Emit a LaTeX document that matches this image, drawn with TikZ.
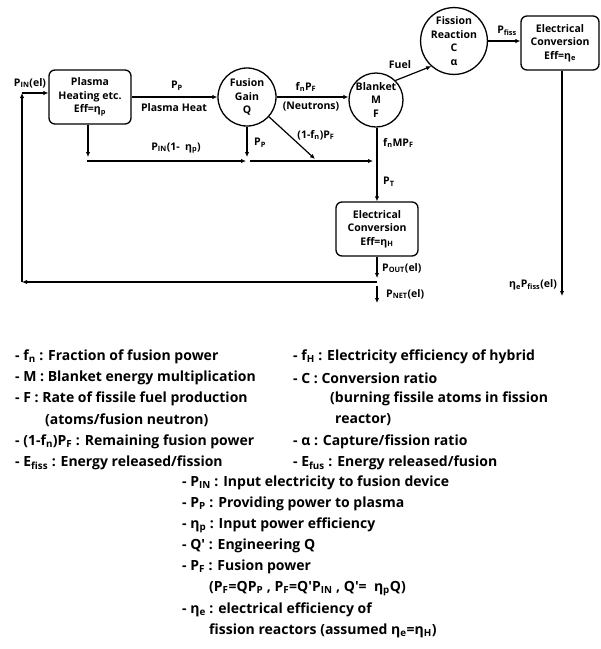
\documentclass[tikz,border=0pt]{standalone}
\usepackage{fontspec}
\setmainfont{Open Sans}
\usetikzlibrary{arrows.meta}
\newcommand\sbs[1]{\textsubscript{#1}}
\begin{document}
\begin{tikzpicture}[x=1pt,y=-1pt,
  font=\fontsize{10.5}{13.5}\selectfont\bfseries,
  ln/.style={line width=1.2pt},
  flow/.style={line width=1.2pt,-{Latex[length=5pt,width=4.5pt]}},
  box/.style={draw,line width=1.3pt,rounded corners=6pt,minimum width=82pt,minimum height=54pt,align=center,inner sep=1pt},
  circ/.style={draw,circle,line width=1.3pt,align=center,inner sep=0pt},
  lbl/.style={inner sep=0pt},
  leg/.style={anchor=west,inner sep=0pt,font=\fontsize{14}{16}\selectfont\bfseries}]
\fill[white] (0,0) rectangle (601,649);
\useasboundingbox (0,0) rectangle (601,649);

% main blocks
\node[box] (heat) at (90,97) {Plasma\\Heating etc.\\Eff=η\sbs{p}};
\node[circ,minimum size=58pt] (fus) at (247,97) {Fusion\\Gain\\Q};
\node[circ,minimum size=54pt] (blk) at (376,100) {Blanket\\M\\F};
\node[circ,minimum size=62pt] (fis) at (454,41) {Fission\\Reaction\\C\\α};
\node[box,minimum width=78pt] (ecr) at (560,43) {Electrical\\Conversion\\Eff=η\sbs{e}};
\node[box] (ecm) at (377,229) {Electrical\\Conversion\\Eff=η\sbs{H}};

% coordinates
\coordinate (c1) at (22,93);
\coordinate (c2) at (22,282);
\coordinate (j1) at (377,282);
\coordinate (hd) at (88,157);
\coordinate (h1) at (87,161);
\coordinate (h2) at (246,161);
\coordinate (fd) at (247,157);
\coordinate (h3) at (250,161);
\coordinate (h4) at (373,161);
\coordinate (dg) at (315,159);
\coordinate (po) at (377,278);
\coordinate (n1) at (377,286);
\coordinate (n2) at (377,303);
\coordinate (ee) at (562,296);

% connectors
\draw[flow] (c2) -- (c1);
\draw[flow] (c1) -- (c1 -| heat.west);
\draw[flow] (heat.east) -- (fus.west);
\draw[flow] (fus.east) -- (fus.east -| blk.west);
\draw[flow] (blk.45) -- (fis.228);
\draw[flow] (fis.east) -- (fis.east -| ecr.west);
\draw[flow] (ecr.south -| ee) -- (ee);
\draw[flow] (heat.south -| hd) -- (hd);
\draw[flow] (h1) -- (h2);
\draw[flow] (fus.south) -- (fd);
\draw[flow] (h3) -- (h4);
\draw[flow] (fus.-42) -- (dg);
\draw[flow] (blk.south -| ecm.north) -- (ecm.north);
\draw[flow] (ecm.south) -- (po);
\draw[flow] (j1) -- (c2);
\draw[flow] (n1) -- (n2);

% labels
\node[lbl] (lpin) at (30,83) {P\sbs{IN}(el)};
\node[lbl] (lpp) at (177,86) {P\sbs{P}};
\node[lbl] (lph) at (174,108) {Plasma Heat};
\node[lbl] (lpin2) at (176,148) {P\sbs{IN}(1-\ \ η\sbs{p})};
\node[lbl,anchor=west] (lpp2) at (254,143) {P\sbs{P}};
\node[lbl] (lfn) at (306,87) {f\sbs{n}P\sbs{F}};
\node[lbl] (lneu) at (311,107) {(Neutrons)};
\node[lbl] (l1fn) at (316,135) {(1-f\sbs{n})P\sbs{F}};
\node[lbl] (lfuel) at (400,65) {Fuel};
\node[lbl] (lpf) at (507,31) {P\sbs{fiss}};
\node[lbl,anchor=west] (lfm) at (383,143) {f\sbs{n}MP\sbs{F}};
\node[lbl,anchor=west] (lpt) at (383,182) {P\sbs{T}};
\node[lbl,anchor=west] (lpo) at (382,268) {P\sbs{OUT}(el)};
\node[lbl,anchor=west] (lpn) at (386,294) {P\sbs{NET}(el)};
\node[lbl] (lee) at (533,285) {η\sbs{e}P\sbs{fiss}(el)};

% legend left
\node[leg] (a1) at (15,357) {- f\sbs{n} : Fraction of fusion power};
\node[leg] (a2) at (15,378) {- M : Blanket energy multiplication};
\node[leg] (a3) at (15,399) {- F : Rate of fissile fuel production};
\node[leg] (a4) at (45,420) {(atoms/fusion neutron)};
\node[leg] (a5) at (15,442) {- (1-f\sbs{n})P\sbs{F} : Remaining fusion power};
\node[leg] (a6) at (15,463) {- E\sbs{fiss} : Energy released/fission};
% legend right
\node[leg] (b1) at (293,357) {- f\sbs{H} : Electricity efficiency of hybrid};
\node[leg] (b2) at (293,378) {- C : Conversion ratio};
\node[leg] (b3) at (330,399) {(burning fissile atoms in fission};
\node[leg] (b4) at (335,420) {reactor)};
\node[leg] (b5) at (293,442) {- α : Capture/fission ratio};
\node[leg] (b6) at (293,463) {- E\sbs{fus} : Energy released/fusion};
% legend bottom
\node[leg] (c1t) at (182,483) {- P\sbs{IN} : Input electricity to fusion device};
\node[leg] (c2t) at (182,504) {- P\sbs{P} : Providing power to plasma};
\node[leg] (c3t) at (182,525) {- η\sbs{p} : Input power efficiency};
\node[leg] (c4t) at (182,546) {- Q′ : Engineering Q};
\node[leg] (c5t) at (182,567) {- P\sbs{F} : Fusion power};
\node[leg] (c6t) at (209,589) {(P\sbs{F}=QP\sbs{P} , P\sbs{F}=Q′P\sbs{IN} , Q′=\ \ η\sbs{p}Q)};
\node[leg] (c7t) at (182,610) {- η\sbs{e} : electrical efficiency of};
\node[leg] (c8t) at (209,631) {fission reactors (assumed η\sbs{e}=η\sbs{H})};
\end{tikzpicture}
\end{document}
